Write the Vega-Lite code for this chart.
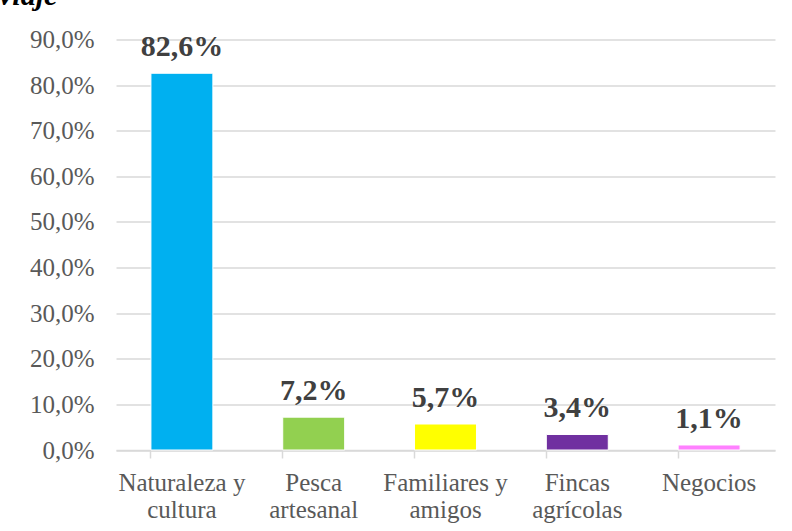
{
  "$schema": "https://vega.github.io/schema/vega-lite/v6.json",
  "width": 659,
  "height": 410.5,
  "autosize": {"type": "none"},
  "padding": {"left": 116, "top": 39.5, "right": 17, "bottom": 81},
  "background": "white",
  "title": {
    "text": "viaje",
    "anchor": "start",
    "frame": "group",
    "orient": "top",
    "baseline": "alphabetic",
    "offset": 0,
    "dx": -117,
    "dy": 7,
    "font": "Liberation Serif",
    "fontStyle": "italic",
    "fontWeight": "bold",
    "fontSize": 30,
    "color": "#000000"
  },
  "config": {
    "locale": {
      "number": {"decimal": ",", "thousands": ".", "grouping": [3], "currency": ["", " €"]}
    },
    "view": {"stroke": null},
    "axis": {
      "labelFont": "Liberation Serif",
      "labelFontSize": 25,
      "labelColor": "#595959",
      "gridColor": "#d9d9d9",
      "gridWidth": 1.5,
      "domainColor": "#d9d9d9",
      "domainWidth": 1.5,
      "tickColor": "#d9d9d9",
      "tickWidth": 1.5,
      "title": null
    }
  },
  "data": {
    "values": [
      {"motivo": "Naturaleza y cultura", "pct": 0.826},
      {"motivo": "Pesca artesanal", "pct": 0.072},
      {"motivo": "Familiares y amigos", "pct": 0.057},
      {"motivo": "Fincas agrícolas", "pct": 0.034},
      {"motivo": "Negocios", "pct": 0.011}
    ]
  },
  "encoding": {
    "x": {
      "field": "motivo",
      "type": "nominal",
      "sort": null,
      "scale": {"paddingInner": 0.53, "paddingOuter": 0.265},
      "axis": {
        "labelAngle": 0,
        "bandPosition": 0,
        "tickSize": 8,
        "labelPadding": 12,
        "labelLineHeight": 27,
        "grid": false,
        "labelExpr": "indexof(datum.label, ' ') > 0 ? [substring(datum.label, 0, lastindexof(datum.label, ' ')), substring(datum.label, lastindexof(datum.label, ' ') + 1)] : datum.label"
      }
    },
    "y": {
      "field": "pct",
      "type": "quantitative",
      "scale": {"domain": [0, 0.9], "nice": false},
      "axis": {
        "values": [0, 0.1, 0.2, 0.3, 0.4, 0.5, 0.6, 0.7, 0.8, 0.9],
        "format": ".1%",
        "ticks": false,
        "domain": false,
        "labelPadding": 22
      }
    }
  },
  "layer": [
    {
      "mark": {"type": "bar", "stroke": "white", "strokeWidth": 1},
      "encoding": {
        "color": {
          "field": "motivo",
          "type": "nominal",
          "sort": null,
          "scale": {
            "domain": ["Naturaleza y cultura", "Pesca artesanal", "Familiares y amigos", "Fincas agrícolas", "Negocios"],
            "range": ["#00B0F0", "#92D050", "#FFFF00", "#7030A0", "#FF80FF"]
          },
          "legend": null
        }
      }
    },
    {
      "mark": {
        "type": "text",
        "font": "Liberation Serif",
        "fontWeight": "bold",
        "fontSize": 30,
        "color": "#404040",
        "baseline": "alphabetic",
        "dy": -17
      },
      "encoding": {
        "text": {"field": "pct", "type": "quantitative", "format": ".1%"}
      }
    }
  ]
}
